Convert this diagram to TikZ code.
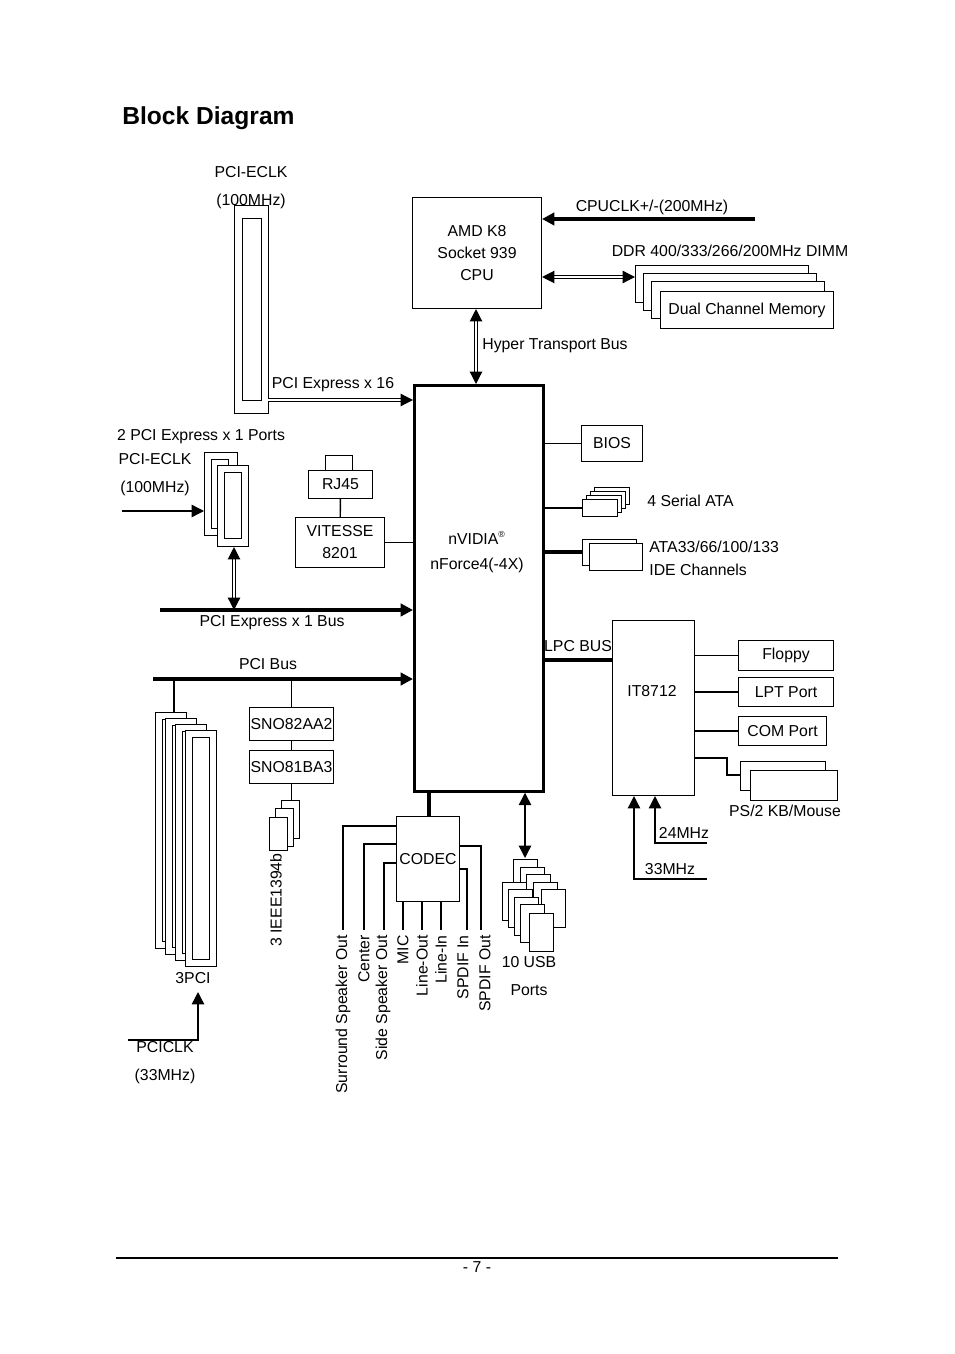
\documentclass[tikz,border=0pt]{standalone}
\usepackage{fontspec}
\setmainfont{Liberation Sans}
\usetikzlibrary{arrows.meta,positioning}
\tikzset{
  box/.style={draw,line width=0.6pt,fill=white,inner sep=0pt},
  lbl/.style={inner sep=0pt,font=\fontsize{9}{11}\selectfont},
  bus/.style={line width=1.8pt},
  wire/.style={line width=0.8pt},
  tip/.style={-{Triangle[length=7pt,width=7pt]}},
  tips/.style={{Triangle[length=7pt,width=7pt]}-{Triangle[length=7pt,width=7pt]}},
  dbl/.style={double,double distance=1.2pt,line width=0.7pt},
}
\newcommand{\rbox}[3]{\node[box,minimum width=#2,minimum height=#3,anchor=north west] at #1 {};}
\begin{document}
\begin{tikzpicture}[x=0.02cm,y=-0.02cm]
\useasboundingbox (0,0) rectangle (954,1354);
\node[anchor=west,inner sep=0pt,font=\fontsize{14}{16}\bfseries] (title) at (122,118) {Block Diagram};
% CPU and memory
\node[box,minimum width=2.58cm,minimum height=2.22cm,anchor=north west,align=center,font=\fontsize{9}{12.5}\selectfont] (cpu) at (412,197) {AMD K8\\Socket 939\\CPU};
\coordinate (clk) at (755,219);
\draw[bus,tip] (clk) -- (clk -| cpu.east);
\node[lbl] (clkl) at (652,207) {CPUCLK+/-(200MHz)};
\node[lbl] (ddrl) at (730,251) {DDR 400/333/266/200MHz DIMM};
\foreach \i/\x/\y in {0/635/265,1/643/273,2/651/281}
  \rbox{(\x,\y)}{3.46cm}{0.74cm}
\node[box,minimum width=3.46cm,minimum height=0.74cm,anchor=north west,font=\fontsize{9}{11}\selectfont] (mem) at (660,291) {Dual Channel Memory};
\coordinate (memin) at (635,277);
\draw[dbl,tips] (memin -| cpu.east) -- (memin);
% chipset
\node[draw,line width=1.6pt,minimum width=2.58cm,minimum height=8.12cm,anchor=north west,inner sep=0pt] (nf) at (413,384) {};
\node[lbl,align=center] (nfl) at (477,552) {nVIDIA\textsuperscript{\tiny\textregistered}\\[3pt]nForce4(-4X)};
\draw[dbl,tips] (cpu.south -| 476,0) -- (nf.north -| 476,0);
\node[lbl,anchor=west] (htl) at (482,346) {Hyper Transport Bus};
% PCI Express x16
\node[box,minimum width=0.68cm,minimum height=4.16cm,anchor=north west] (x16) at (234,205) {};
\node[box,minimum width=0.38cm,minimum height=3.64cm,anchor=north west] (x16i) at (242,218) {};
\node[lbl,align=center] (x16clk) at (251,188) {PCI-ECLK\\[5pt](100MHz)};
\draw[dbl,tip] (268,400) -- (nf.west |- 0,400);
\node[lbl] (x16l) at (333,385) {PCI Express x 16};
% PCI Express x1
\node[lbl] (x1l) at (201,437) {2 PCI Express x 1 Ports};
\node[lbl,align=center] (x1clk) at (155,475) {PCI-ECLK\\[5pt](100MHz)};
\node[box,minimum width=0.66cm,minimum height=1.66cm,anchor=north west] (x1a) at (204,452) {};
\node[box,minimum width=0.34cm,minimum height=1.38cm,anchor=north west] (x1ai) at (211,459) {};
\node[box,minimum width=0.62cm,minimum height=1.62cm,anchor=north west] (x1b) at (217,465) {};
\node[box,minimum width=0.34cm,minimum height=1.32cm,anchor=north west] (x1bi) at (224,472) {};
\coordinate (x1in) at (122,511);
\draw[wire,tip] (x1in) -- (x1a.west |- x1in);
\coordinate (x1bus) at (160,610);
\draw[bus,tip] (x1bus) -- (nf.west |- x1bus);
\draw[dbl,tips] (x1b.south -| 234,0) -- (234,610);
\node[lbl] (x1busl) at (272,623) {PCI Express x 1 Bus};
% LAN
\node[box,minimum width=0.54cm,minimum height=0.3cm,anchor=north west] (jack) at (325,455) {};
\node[box,minimum width=1.28cm,minimum height=0.56cm,anchor=north west,font=\fontsize{9}{11}\selectfont] (rj) at (308,470) {RJ45};
\node[box,minimum width=1.78cm,minimum height=1cm,anchor=north west,align=center,font=\fontsize{9}{12.5}\selectfont] (vit) at (295,517) {VITESSE\\8201};
\draw[wire] (rj) -- (vit);
\draw[wire] (vit.east) -- (nf.west |- vit.east);
% PCI
\coordinate (pcibus) at (153,679);
\draw[bus,tip] (pcibus) -- (nf.west |- pcibus);
\node[lbl] (pcil) at (268,664) {PCI Bus};
\foreach \i in {0,1,2,3}{
  \node[box,minimum width=0.62cm,minimum height=4.72cm,anchor=north west] (pci\i) at (155+10*\i,712+6*\i) {};
  \node[box,minimum width=0.34cm,minimum height=4.44cm,anchor=north west] (pci\i i) at (162+10*\i,719+6*\i) {};
}
\draw[wire] (174,679) -- (pci0.north -| 174,0);
\node[lbl] (pcin) at (193,978) {3PCI};
\coordinate (pciclk) at (128,1040);
\draw[wire,tip] (pciclk) -- (198,1040) -- (198,992);
\node[lbl,align=center] (pciclkl) at (165,1063) {PCICLK\\[5pt](33MHz)};
% 1394
\node[box,minimum width=1.68cm,minimum height=0.66cm,anchor=north west,font=\fontsize{9}{11}\selectfont] (sa) at (249,707) {SNO82AA2};
\node[box,minimum width=1.68cm,minimum height=0.66cm,anchor=north west,font=\fontsize{9}{11}\selectfont] (sb) at (249,750) {SNO81BA3};
\draw[wire] (sa.north) -- (sa.north |- pcibus);
\draw[wire] (sa) -- (sb);
\node[box,minimum width=0.36cm,minimum height=0.76cm,anchor=north west] (fw0) at (281,800) {};
\node[box,minimum width=0.36cm,minimum height=0.76cm,anchor=north west] (fw1) at (275,808) {};
\node[box,minimum width=0.36cm,minimum height=0.66cm,anchor=north west] (fw2) at (269,817) {};
\draw[wire] (sb.south) -- (fw0.north -| sb.south);
\node[lbl,rotate=90] (fwl) at (276,900) {3 IEEE1394b};
% audio
\node[box,minimum width=1.26cm,minimum height=1.7cm,anchor=north west,font=\fontsize{9}{11}\selectfont] (codec) at (396,816) {CODEC};
\draw[bus] (nf.south -| 429,0) -- (codec.north -| 429,0);
\draw[wire] (codec.west |- 0,826) -- (343,826) -- (343,930);
\draw[wire] (codec.west |- 0,844) -- (364,844) -- (364,930);
\draw[wire] (codec.west |- 0,863) -- (384,863) -- (384,930);
\foreach \x in {403,422,441} \draw[wire] (codec.south -| \x,0) -- (\x,930);
\draw[wire] (codec.east |- 0,869) -- (467,869) -- (467,930);
\draw[wire] (codec.east |- 0,846) -- (481,846) -- (481,930);
\foreach \x/\t in {343/Surround Speaker Out,364/Center/Subwoofer Speaker Out,383/Side Speaker Out,403/MIC,422/Line-Out,441/Line-In,463/SPDIF In,485/SPDIF Out}
  \node[lbl,rotate=90,anchor=east] at (\x,935) {\t};
% USB
\foreach \x/\y in {513/859,520/867,526/874,502/882,533/882,508/889,541/889,514/897,520/904,529/913}
  \node[box,minimum width=0.48cm,minimum height=0.76cm,anchor=north west] at (\x,\y) {};
\draw[wire,tips] (nf.south -| 525,0) -- (525,858);
\node[lbl,align=center] (usbl) at (529,976) {10 USB\\[5pt]Ports};
% south side peripherals
\node[box,minimum width=1.22cm,minimum height=0.72cm,anchor=north west,font=\fontsize{9}{11}\selectfont] (bios) at (581,425) {BIOS};
\draw[wire] (bios.west) -- (nf.east |- bios.west);
\foreach \i in {0,1,2,3}
  \node[box,minimum width=0.7cm,minimum height=0.34cm,anchor=north west] (sata\i) at (594-4*\i,487+4*\i) {};
\draw[wire] (sata3.west) -- (nf.east |- sata3.west);
\node[lbl,anchor=west] (satal) at (647,501) {4 Serial ATA};
\node[box,minimum width=1.08cm,minimum height=0.52cm,anchor=north west] (ide0) at (582,539) {};
\node[box,minimum width=1.06cm,minimum height=0.54cm,anchor=north west] (ide1) at (589,543) {};
\draw[bus] (ide0.west |- 0,552) -- (nf.east |- 0,552);
\node[lbl,anchor=west,align=left] (idel) at (649,558) {ATA33/66/100/133\\[2pt]IDE Channels};
% super I/O
\node[box,minimum width=1.64cm,minimum height=3.5cm,anchor=north west,font=\fontsize{9}{11}\selectfont] (sio) at (612,620) {};
\node[lbl] (siol) at (652,691) {IT8712};
\draw[bus] (nf.east |- 0,660) -- (sio.west |- 0,660);
\node[lbl] (lpcl) at (578,646) {LPC BUS};
\node[box,minimum width=1.9cm,minimum height=0.6cm,anchor=north west,font=\fontsize{9}{11}\selectfont] (fdd) at (738,640) {Floppy};
\node[box,minimum width=1.9cm,minimum height=0.58cm,anchor=north west,font=\fontsize{9}{11}\selectfont] (lpt) at (738,677) {LPT Port};
\node[box,minimum width=1.76cm,minimum height=0.58cm,anchor=north west,font=\fontsize{9}{11}\selectfont] (com) at (738,716) {COM Port};
\foreach \n in {fdd,lpt,com} \draw[wire] (\n.west) -- (sio.east |- \n.west);
\node[box,minimum width=1.7cm,minimum height=0.58cm,anchor=north west] (ps0) at (740,761) {};
\node[box,minimum width=1.74cm,minimum height=0.6cm,anchor=north west] (ps1) at (750,770) {};
\draw[wire] (sio.east |- 0,758) -- (727,758) -- (727,775) -- (ps0.west |- 0,775);
\node[lbl] (psl) at (785,811) {PS/2 KB/Mouse};
\coordinate (c24) at (707,843);
\coordinate (c33) at (707,879);
\draw[wire,tip] (c24) -- (655,843) -- (sio.south -| 655,0);
\draw[wire,tip] (c33) -- (634,879) -- (sio.south -| 634,0);
\node[lbl] (l24) at (684,833) {24MHz};
\node[lbl] (l33) at (670,869) {33MHz};
% footer
\draw[line width=0.8pt] (116,1258) -- (838,1258);
\node[lbl] (page) at (477,1267) {- 7 -};
\end{tikzpicture}
\end{document}
